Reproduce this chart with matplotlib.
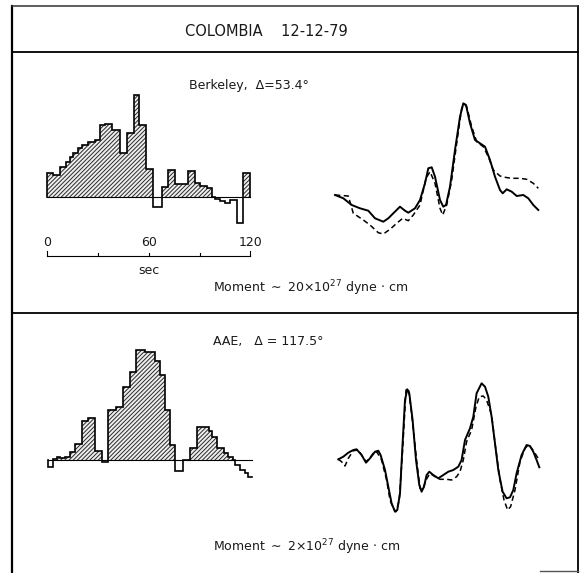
import numpy as np
import matplotlib
matplotlib.use("Agg")
import matplotlib.pyplot as plt

plt.rcParams["font.family"] = ["DejaVu Sans"]
plt.rcParams["hatch.linewidth"] = 0.7
plt.rcParams["hatch.color"] = "#2a2a2a"

# ---- Source time functions (step edges in s, relative moment rate) ----
berk_edges = [0, 3.5, 7.7, 11.2, 13.6, 15.3, 18.3, 20.6, 24.2, 28.3, 31.3, 34.2,
              38.3, 43.1, 47.2, 51.3, 54.3, 58.7, 62.5, 67.8, 71.2, 75.5, 83.2,
              87.3, 90.3, 94.2, 97.2, 99.1, 102.1, 105.0, 108.0, 111.9, 115.8, 119.8]
berk_rate = [24, 22, 30, 35, 40, 44, 49, 52, 55, 57, 72, 73, 67, 44, 64, 102, 72,
             28, -10, 10, 27, 13, 26, 14, 11, 9, 0, -2, -4, -6, -3, -26, 24]

aae_edges = [0, 2.6, 4.9, 6.9, 9.8, 12.8, 15.7, 19.6, 23.5, 27.5, 31.4, 35.3,
             39.8, 43.9, 48.1, 51.7, 57.0, 62.8, 65.7, 68.6, 71.6, 74.5, 79.2,
             83.1, 87.3, 94.5, 96.1, 99.2, 103.4, 105.7, 108.6, 109.8, 112.7,
             115.7, 117.5, 119.8]
aae_rate = [-6.7, 1, 2.7, 2, 3.3, 7.7, 16, 38.7, 41.7, 9.3, -1.7, 50, 53, 73, 88,
            110, 108, 99, 85, 50, 15, -11, 0, 12, 33, 29, 23, 12, 7, 3, 0, -5,
            -10, -13, -17]

time_ticks = [0, 30, 60, 90, 120]
time_tick_labels = ["0", "", "60", "", "120"]

# ---- Waveforms: observed (solid) and synthetic (dashed) ----
berk_obs_t = [0, 8.3, 16.7, 25, 33.3, 40, 48.3, 53.3, 58.3, 65, 70, 73.3, 80, 85,
              90, 93.3, 96.7, 100, 105, 108.3, 111, 115, 120, 125, 128.3, 131,
              135, 140, 145, 150, 155, 160, 165, 167.7, 171.7, 176.7, 181.7,
              188.3, 193.3, 198.3, 203.3]
berk_obs_a = [0, -3.3, -10, -13.3, -15.7, -23.3, -26.7, -23.3, -18.3, -11.7,
              -15.7, -17.7, -13.3, -5, 11.7, 26.7, 27.7, 18.3, -5, -11.7, -10,
              8.3, 45, 78.3, 91.7, 90, 71.7, 55, 51.7, 48.3, 35, 18.3, 5, 1.7,
              5.7, 3.3, -1, 0, -3.3, -10, -15]
berk_syn_t = [0, 13.3, 18.3, 28.3, 35, 43.3, 48.3, 55, 61.7, 67.7, 73.3, 78.3,
              85, 91, 95, 100, 105, 107.7, 111.7, 116.7, 121.7, 126.7, 129.3,
              131.7, 136.7, 141.7, 148.3, 153.3, 158.3, 165, 170, 176.7, 185,
              191.7, 198.3, 203.3]
berk_syn_a = [0, -1, -18.3, -25, -30, -37.7, -39, -34.3, -28.3, -23.3, -25.7,
              -20, -10, 16.7, 23.3, 11.7, -13.3, -20, -10, 15, 51.7, 86.7, 91,
              88.3, 68.3, 53.3, 48.3, 38.3, 25, 19, 17.7, 16.7, 16.7, 15.7,
              11.7, 6.7]

aae_obs_t = [0, 5, 10, 15, 18.3, 23.3, 27.7, 31.7, 36.7, 40, 42.3, 46.7, 50,
             53.3, 56.7, 59, 61.7, 64.3, 66.7, 69, 71, 74.3, 77.7, 81, 83.3,
             85.7, 88.3, 91, 95, 100, 105, 110, 115, 120, 123.3, 126.7, 131.7,
             135, 138.3, 143.3, 146.7, 150, 153.3, 156.7, 160, 164.3, 168.3,
             171.7, 175, 178.3, 183.3, 188.3, 191.7, 195, 198.3, 201]
aae_obs_a = [0.7, 3.3, 7.3, 10, 10.7, 5, -2.7, 1.7, 8.3, 9.3, 5, -10, -26.7,
             -43.3, -51.7, -50, -33.3, 16.7, 60, 70.7, 66.7, 40, 0, -25, -31.7,
             -26.7, -15, -11.7, -15, -18.3, -15, -11.7, -10, -6.7, 0, 20, 31.7,
             43.3, 66.7, 76.7, 73.3, 63.3, 43.3, 16.7, -10, -31.7, -38.3, -37.3,
             -30, -13.3, 5, 15, 14, 8.3, 0, -7.3]
aae_syn_t = [0, 3.3, 6.7, 10, 15, 20, 23.3, 27.7, 31.7, 36.7, 39, 43.3, 48.3,
             51.7, 55, 57.7, 61, 64.3, 67.7, 70, 73.3, 78.3, 81.7, 84.3, 87.7,
             91.7, 96.7, 101.7, 108.3, 113.3, 118.3, 121.7, 125, 128.3, 133.3,
             137.7, 141, 145, 148.3, 153.3, 156.7, 161.7, 165.7, 169.3, 172.3,
             176.7, 181.7, 186.7, 190, 193.3, 196.7, 201]
aae_syn_a = [0.7, -1.7, -6, 1.7, 9.3, 10, 5, -1.7, 2.3, 9, 7.3, 0, -20, -40,
             -48.3, -51.7, -40, 10, 70, 71.7, 46.7, 0, -28.3, -30, -20, -13.3,
             -16.7, -19.3, -19.3, -20, -16.7, -11.7, 0, 18.3, 30, 53.3, 63.3,
             64, 60, 45, 16.7, -20, -40, -50, -46.7, -30, -1.7, 11.7, 15, 11.7,
             6.7, 0]

W, H = 584, 573
fig = plt.figure(figsize=(W / 100, H / 100), dpi=100)

# Frame of the plate, in pixel units
frame = fig.add_axes([0, 0, 1, 1])
frame.set_xlim(0, W)
frame.set_ylim(H, 0)
frame.axis("off")
frame.plot([12, 12], [6, H], color="black", lw=1.6)
frame.plot([578, 578], [6, H], color="black", lw=1.3)
frame.plot([12, 578], [6, 6], color="#333333", lw=1.1)
frame.plot([12, 578], [52, 52], color="black", lw=1.3)
frame.plot([12, 578], [313, 313], color="black", lw=1.3)
frame.plot([540, 578], [571, 571], color="#555555", lw=1.0)

txt = dict(color="#1a1a1a")
frame.text(266, 31, "COLOMBIA    12-12-79", ha="center", va="center",
           fontsize=10.5, **txt)
frame.text(189, 85, "Berkeley,  Δ=53.4°", ha="left", va="center",
           fontsize=9, **txt)
frame.text(213, 288, r"Moment $\sim$ 20$\times$10$^{27}$ dyne $\cdot$ cm",
           ha="left", va="center", fontsize=9, **txt)
frame.text(213, 342, "AAE,   Δ = 117.5°", ha="left", va="center",
           fontsize=9, **txt)
frame.text(213, 547, r"Moment $\sim$ 2$\times$10$^{27}$ dyne $\cdot$ cm",
           ha="left", va="center", fontsize=9, **txt)


def panel(x0, y0, x1, y1, ox, oy, sx, sy):
    """Axes covering pixel box (x0,y0)-(x1,y1); data origin at pixel (ox,oy)."""
    ax = fig.add_axes([x0 / W, 1 - y1 / H, (x1 - x0) / W, (y1 - y0) / H])
    ax.set_xlim((x0 - ox) / sx, (x1 - ox) / sx)
    ax.set_ylim((oy - y1) / sy, (oy - y0) / sy)
    ax.axis("off")
    ax.patch.set_alpha(0)
    return ax


def draw_stf(ax, edges, rate, close_end):
    edges = np.asarray(edges, float)
    rate = np.asarray(rate, float)
    xs = np.repeat(edges, 2)[1:-1]
    ys = np.repeat(rate, 2)
    ax.fill_between(xs, 0, np.clip(ys, 0, None), facecolor="#eeeeee",
                    edgecolor="#2a2a2a", linewidth=0, hatch="////////", zorder=1)
    ox = np.concatenate([[edges[0]], xs, [edges[-1]] if close_end else []])
    oy = np.concatenate([[0], ys, [0] if close_end else []])
    ax.plot(ox, oy, color="black", lw=1.2, solid_joinstyle="miter", zorder=3)
    ax.plot([edges[0], edges[-1]], [0, 0], color="black", lw=0.8, zorder=2)


# Berkeley source time function with time scale
ax1 = panel(35, 85, 265, 285, 47, 197, 1.695, 1.0)
draw_stf(ax1, berk_edges, berk_rate, close_end=True)
ax_y = -59
ax1.plot([time_ticks[0], time_ticks[-1]], [ax_y, ax_y], color="black", lw=0.8)
for i, (tk, lab) in enumerate(zip(time_ticks, time_tick_labels)):
    end = i in (0, len(time_ticks) - 1)
    ax1.plot([tk, tk], [ax_y, ax_y + (5 if end else 3)], color="black", lw=0.8)
    if lab:
        ax1.text(tk, ax_y + 14, lab, ha="center", va="center", fontsize=9, **txt)
ax1.text(time_ticks[2], ax_y - 15, "sec", ha="center", va="center",
         fontsize=9, **txt)

# Berkeley waveforms
ax2 = panel(325, 90, 565, 260, 335, 195, 1.0, 1.0)
ax2.plot(berk_syn_t, berk_syn_a, color="black", lw=1.1, ls=(0, (3.5, 2.2)))
ax2.plot(berk_obs_t, berk_obs_a, color="black", lw=1.4, solid_joinstyle="round")

# AAE source time function
ax3 = panel(35, 340, 265, 490, 48.3, 460, 1.7, 1.0)
draw_stf(ax3, aae_edges, aae_rate, close_end=False)

# AAE waveforms
ax4 = panel(325, 370, 565, 530, 338.3, 460, 1.0, 1.0)
ax4.plot(aae_syn_t, aae_syn_a, color="black", lw=1.1, ls=(0, (3.5, 2.2)))
ax4.plot(aae_obs_t, aae_obs_a, color="black", lw=1.4, solid_joinstyle="round")

fig.savefig("out.png", dpi=100, facecolor="white")
